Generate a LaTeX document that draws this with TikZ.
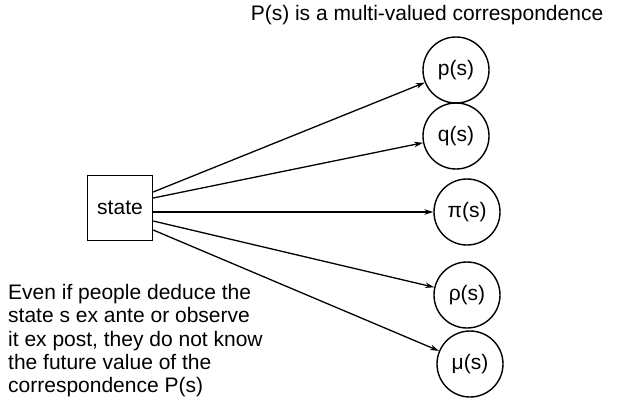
\documentclass[tikz,border=0pt]{standalone}
\usepackage{fontspec}
\setmainfont{Liberation Sans}
\usetikzlibrary{arrows.meta}
\tikzset{
  valnode/.style={draw, circle, line width=1.4pt, minimum size=66pt, inner sep=0pt},
  statebox/.style={draw, line width=1.4pt, minimum size=65pt, inner sep=0pt},
  corr/.style={line width=1.3pt, -{Stealth[length=9pt,width=5.5pt]}}
}
\begin{document}
\begin{tikzpicture}[x=1pt,y=-1pt,font=\fontsize{21}{23.3}\selectfont]
			\useasboundingbox (0,0) rectangle (617,409);

			% the state
			\node[statebox] (state) at (120,208) {state};

			% values of the correspondence
			\node[valnode] (p) at (456,70) {p(s)};
			\node[valnode] (q) at (456,136) {q(s)};
			\node[valnode] (pi) at (467,212) {π(s)};
			\node[valnode] (rho) at (467,295) {ρ(s)};
			\node[valnode] (mu) at (470,364) {μ(s)};

			% arrows from the state
			\draw[corr] ([yshift=16pt]state.east) -- (p);
			\draw[corr] ([yshift=10pt]state.east) -- (q);
			\draw[corr] ([yshift=-4pt]state.east) -- (pi);
			\draw[corr] ([yshift=-13pt]state.east) -- (rho);
			\draw[corr] ([yshift=-22pt]state.east) -- (mu);

			% texts
			\node (title) at (427,15) {P(s) is a multi-valued correspondence};
			\node[anchor=north west, align=left, inner sep=0pt] (note) at (8,284)
				{Even if people deduce the\\state s ex ante or observe\\it ex post, they do not know\\the future value of the\\correspondence P(s)};
		\end{tikzpicture}
\end{document}
